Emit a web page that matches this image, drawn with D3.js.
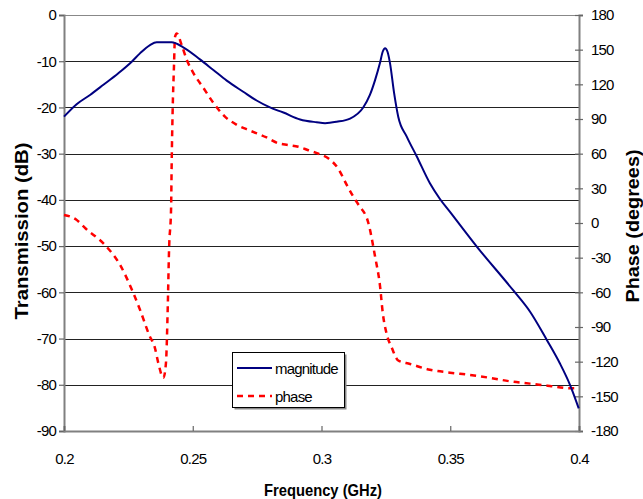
<!DOCTYPE html>
<html>
<head>
<meta charset="utf-8">
<script src="https://cdn.jsdelivr.net/npm/d3@7"></script>
<style>
  html, body { margin: 0; padding: 0; background: #fff; }
  svg { display: block; }
  text { font-family: "Liberation Sans", Arial, sans-serif; fill: #000; }
</style>
</head>
<body>
<svg id="chart" width="643" height="499"></svg>
<script>
// ---- Data ----
const magFreq = [0.2000, 0.2049, 0.2101, 0.2153, 0.2211, 0.2263, 0.2295, 0.2334, 0.2360, 0.2418,
  0.2463, 0.2528, 0.2580, 0.2632, 0.2696, 0.2748, 0.2800, 0.2852, 0.2917, 0.2981, 0.3014, 0.3059,
  0.3111, 0.3162, 0.3188, 0.3208, 0.3227, 0.3238, 0.3247, 0.3256, 0.3266, 0.3282, 0.3298, 0.3331,
  0.3370, 0.3421, 0.3460, 0.3499, 0.3603, 0.3745, 0.3810, 0.3875, 0.3926, 0.3965, 0.3999];
const magDB = [-22.0, -19.3, -17.3, -15.1, -12.6, -10.1, -8.3, -6.5, -5.9, -5.9,
  -7.0, -9.6, -11.9, -14.2, -16.6, -18.5, -20.0, -21.1, -22.6, -23.2, -23.4, -23.1,
  -22.4, -20.0, -17.3, -14.1, -10.4, -7.9, -7.2, -7.9, -10.4, -16.9, -22.0, -26.3,
  -30.6, -36.4, -39.8, -42.6, -50.1, -59.6, -64.2, -70.3, -75.4, -80.0, -85.1];

const phaseFreq = [0.2000, 0.2047, 0.2085, 0.2159, 0.2217, 0.2268, 0.2295, 0.2331, 0.2353, 0.2366,
  0.2386, 0.2396, 0.2403, 0.2408, 0.2416, 0.2418, 0.2422, 0.2427, 0.2431, 0.2438, 0.2457, 0.2477,
  0.2502, 0.2541, 0.2580, 0.2625, 0.2671, 0.2722, 0.2787, 0.2832, 0.2871, 0.2910, 0.2949, 0.2988,
  0.3026, 0.3065, 0.3098, 0.3123, 0.3143, 0.3182, 0.3208, 0.3227, 0.3238, 0.3253, 0.3273, 0.3298,
  0.3344, 0.3421, 0.3499, 0.3577, 0.3654, 0.3732, 0.3810, 0.3887, 0.3965, 0.3996];
const phaseDeg = [7, 3, -5, -19, -36, -60, -75, -97, -108, -121,
  -134, -121, -72, -23, 14, 49, 98, 135, 161, 164, 154, 141,
  130, 117, 104, 92, 85, 80, 74, 69, 67.5, 66, 63, 60,
  56, 47, 33, 23, 16, 0, -29, -54, -78, -96, -108, -119,
  -122, -127, -129.5, -131.5, -134, -137, -139, -141, -143, -143];

const xTicks = [0.2, 0.25, 0.3, 0.35, 0.4];
const yLeftTicks = [0, -10, -20, -30, -40, -50, -60, -70, -80, -90];
const yRightTicks = [180, 150, 120, 90, 60, 30, 0, -30, -60, -90, -120, -150, -180];
const seriesNames = ["magnitude", "phase"];
const xTitle = "Frequency (GHz)";
const yLeftTitle = "Transmission (dB)";
const yRightTitle = "Phase (degrees)";

// ---- Layout ----
const svg = d3.select("#chart");
const L = 64, R = 579, T = 15, B = 431;

const x = d3.scaleLinear().domain([0.2, 0.4]).range([L, R]);
const yL = d3.scaleLinear().domain([-90, 0]).range([B, T]);
const yR = d3.scaleLinear().domain([-180, 180]).range([B, T]);

// gridlines
svg.append("g").selectAll("line")
  .data(yLeftTicks.filter(d => d !== -90))
  .join("line")
  .attr("x1", L).attr("x2", R)
  .attr("y1", d => Math.round(yL(d)) + 0.5)
  .attr("y2", d => Math.round(yL(d)) + 0.5)
  .attr("stroke", d => d === 0 ? "#888" : "#222")
  .attr("stroke-width", 1);

// left axis
const gL = svg.append("g").attr("transform", `translate(${L},0)`)
  .call(d3.axisLeft(yL).tickValues(yLeftTicks).tickSize(5).tickPadding(3).tickFormat(d => String(d)));
// right axis
const gR = svg.append("g").attr("transform", `translate(${R},0)`)
  .call(d3.axisRight(yR).tickValues(yRightTicks).tickSize(4).tickPadding(8).tickFormat(d => String(d)));
gR.selectAll(".tick line").attr("x1", -4);
// bottom axis
const gB = svg.append("g").attr("transform", `translate(0,${B})`)
  .call(d3.axisBottom(x).tickValues(xTicks).tickSize(-5).tickPadding(22).tickFormat(d => String(d)));

[gL, gR, gB].forEach(g => {
  g.select(".domain").attr("stroke", "#808080").attr("stroke-width", 2);
  g.selectAll(".tick line").attr("stroke", "#666").attr("stroke-width", 1.2);
  g.selectAll(".tick text")
    .style("font-family", '"Liberation Sans", Arial, sans-serif')
    .style("font-size", "15px")
    .style("letter-spacing", "-0.8px")
    .attr("fill", "#000");
});

// lines
const magData = magFreq.map((f, i) => [f, magDB[i]]);
const phData = phaseFreq.map((f, i) => [f, phaseDeg[i]]);

svg.append("path")
  .datum(phData)
  .attr("fill", "none")
  .attr("stroke", "#ff0000")
  .attr("stroke-width", 2.5)
  .attr("stroke-dasharray", "6,5")
  .attr("d", d3.line().x(d => x(d[0])).y(d => yR(d[1])).curve(d3.curveMonotoneX));

svg.append("path")
  .datum(magData)
  .attr("fill", "none")
  .attr("stroke", "#000080")
  .attr("stroke-width", 2)
  .attr("d", d3.line().x(d => x(d[0])).y(d => yL(d[1])).curve(d3.curveMonotoneX));

// axis titles
svg.append("text")
  .attr("x", 323).attr("y", 496)
  .attr("text-anchor", "middle")
  .attr("textLength", 118).attr("lengthAdjust", "spacingAndGlyphs")
  .style("font-weight", "bold").style("font-size", "17px")
  .text(xTitle);
svg.append("text")
  .attr("transform", "translate(28,231) rotate(-90)")
  .attr("text-anchor", "middle")
  .attr("textLength", 177).attr("lengthAdjust", "spacingAndGlyphs")
  .style("font-weight", "bold").style("font-size", "19px")
  .text(yLeftTitle);
svg.append("text")
  .attr("transform", "translate(639,226) rotate(-90)")
  .attr("text-anchor", "middle")
  .attr("textLength", 153).attr("lengthAdjust", "spacingAndGlyphs")
  .style("font-weight", "bold").style("font-size", "18px")
  .text(yRightTitle);

// legend
const lg = svg.append("g");
lg.append("rect").attr("x", 234.5).attr("y", 354.5).attr("width", 112).attr("height", 55).attr("fill", "#888");
lg.append("rect").attr("x", 232.5).attr("y", 352.5).attr("width", 112).attr("height", 55)
  .attr("fill", "#fff").attr("stroke", "#000").attr("stroke-width", 1);
const legendStyles = [
  { stroke: "#000080", width: 2, dash: null },
  { stroke: "#ff0000", width: 2.5, dash: "6,5" }
];
seriesNames.forEach((name, i) => {
  const cy = 368 + i * 28;
  lg.append("line").attr("x1", 237).attr("x2", 272).attr("y1", cy).attr("y2", cy)
    .attr("stroke", legendStyles[i].stroke).attr("stroke-width", legendStyles[i].width)
    .attr("stroke-dasharray", legendStyles[i].dash);
  lg.append("text").attr("x", 275).attr("y", cy + 5.5)
    .style("font-size", "15px").style("letter-spacing", "-0.8px")
    .text(name);
});
</script>
</body>
</html>
